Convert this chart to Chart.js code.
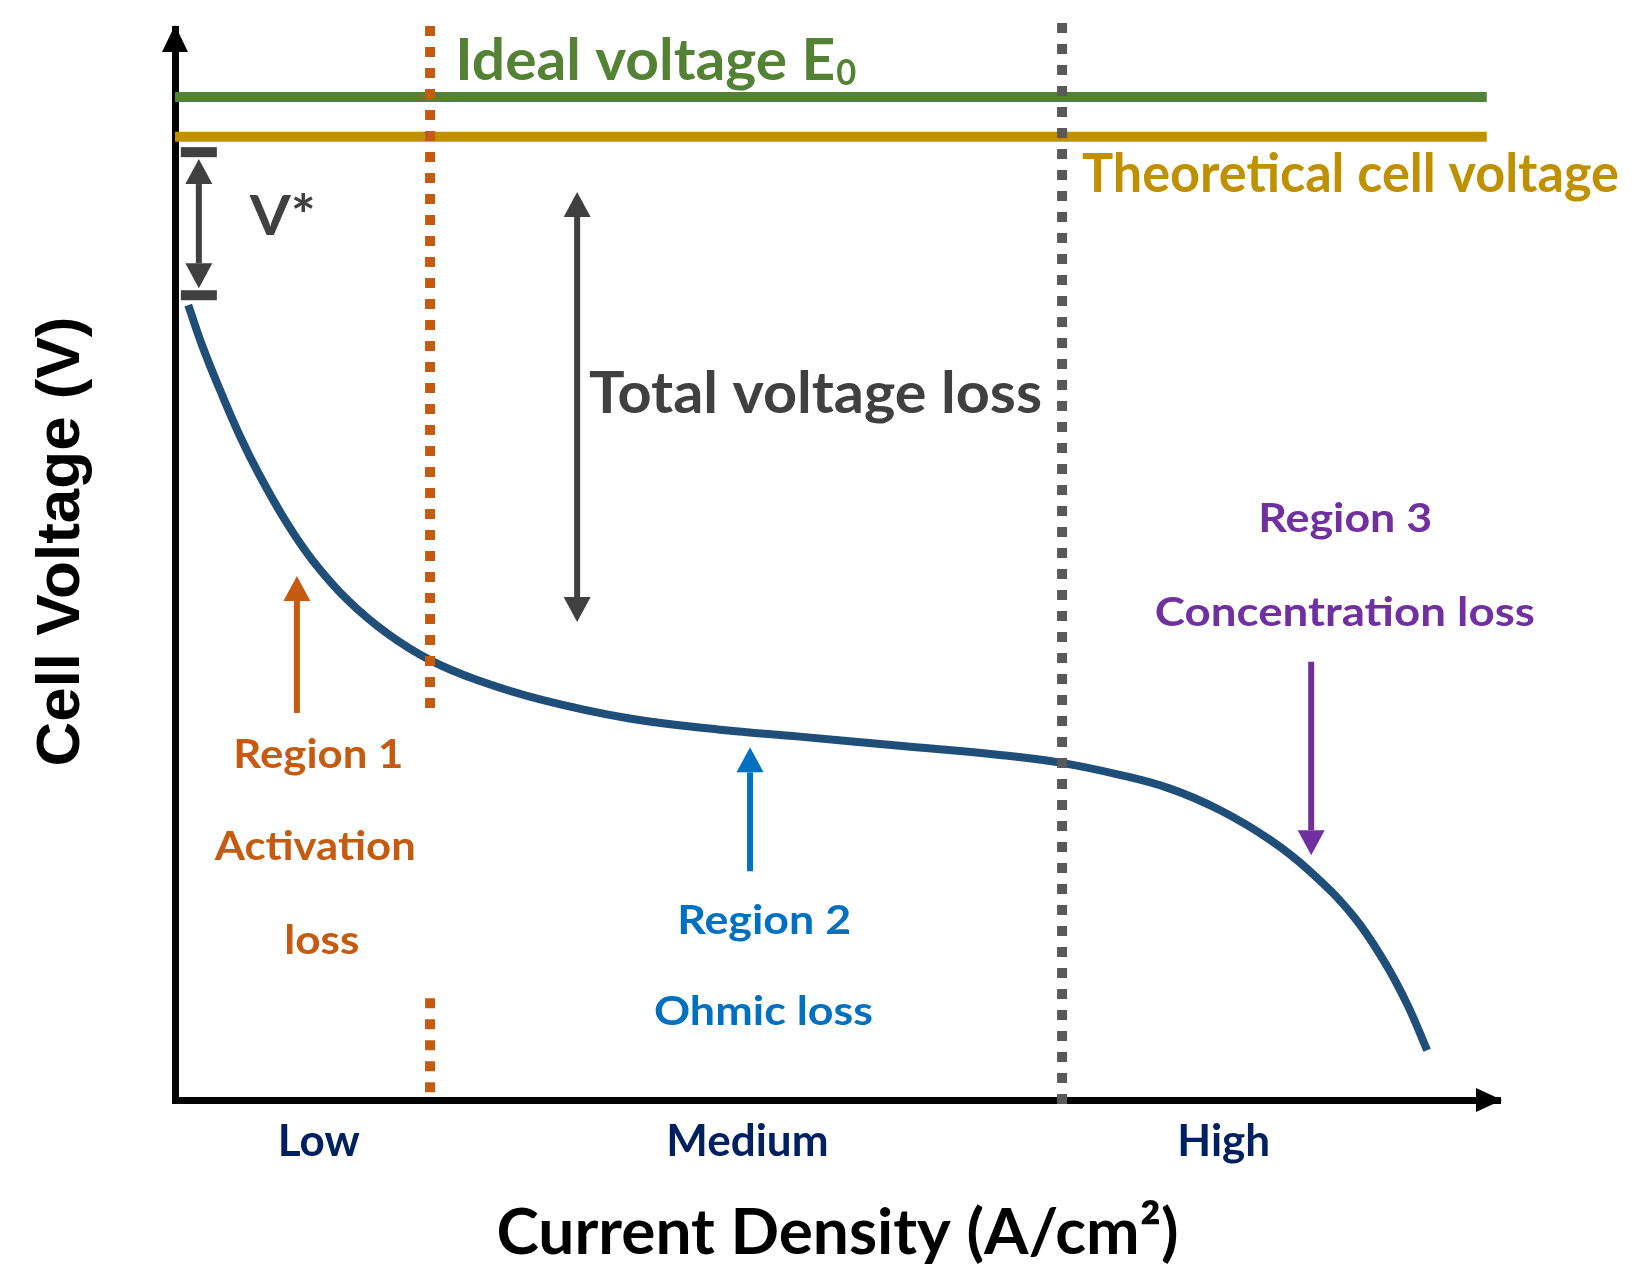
<!DOCTYPE html>
<html>
<head>
<meta charset="utf-8">
<title>Fuel cell polarization curve</title>
<script src="https://cdn.jsdelivr.net/npm/chart.js"></script>
<style>
  body { margin: 0; background: #fff; }
  canvas { display: block; }
</style>
</head>
<body>
<canvas id="polarizacion" width="1634" height="1284"></canvas>
<script>
// curva de polarizacion (unidades relativas)
const currentDensity = [0.020, 0.042, 0.068, 0.098, 0.128, 0.169, 0.208, 0.260, 0.320, 0.385,
    0.456, 0.554, 0.684, 0.823, 0.943, 1.094, 1.245, 1.336, 1.426, 1.502,
    1.577, 1.653, 1.713, 1.778, 1.826, 1.860, 1.890];
const cellVoltage = [1.039, 0.984, 0.928, 0.868, 0.816, 0.754, 0.705, 0.654, 0.610, 0.575,
    0.549, 0.523, 0.499, 0.484, 0.475, 0.463, 0.451, 0.441, 0.425, 0.407,
    0.379, 0.340, 0.299, 0.241, 0.180, 0.125, 0.065];

// lineas horizontales
const idealVoltage = 1.311;
const theoreticalVoltage = 1.259;
const flatLineEnd = 1.98;

// limites de regiones (lineas punteadas)
const activationBoundary = 0.385;
const activationSpans = [[1.404, 0.512], [0.133, 0.010]];
const concentrationBoundary = 1.339;
const concentrationSpan = [1.408, -0.010];

// etiquetas del eje x
const regionTickPositions = [0.217, 0.864, 1.583];
const regionTickLabels = ['Low', 'Medium', 'High'];

// titulo del eje y, centrado en este valor
const yTitleCenter = 0.73;

// flechas: x, cola, punta
const arrows = [
    { x: 0.036, from: 1.061, to: 1.230, color: '#404040', both: true, bars: [1.239, 1.052] },
    { x: 0.607, from: 0.625, to: 1.187, color: '#404040', both: true },
    { x: 0.184, from: 0.506, to: 0.685, color: '#c55a11' },
    { x: 0.868, from: 0.299, to: 0.461, color: '#0070c0' },
    { x: 1.715, from: 0.573, to: 0.320, color: '#7030a0' }
];

// textos: posicion izquierda / linea base
const notes = [
    { text: 'Ideal voltage E', x: 0.423, y: 1.333, color: '#548235', size: 58, w: 380 },
    { text: '0', x: 0.998, y: 1.327, color: '#548235', size: 36, w: 20 },
    { text: 'Theoretical cell voltage', x: 1.369, y: 1.187, color: '#bf9000', size: 54, w: 537 },
    { text: 'V*', x: 0.113, y: 1.131, color: '#404040', size: 56, w: 66 },
    { text: 'Total voltage loss', x: 0.625, y: 0.898, color: '#404040', size: 58, w: 453 },
    { text: 'Region 1', x: 0.088, y: 0.434, color: '#c55a11', size: 41, w: 170 },
    { text: 'Activation', x: 0.060, y: 0.314, color: '#c55a11', size: 41, w: 201 },
    { text: 'loss', x: 0.165, y: 0.191, color: '#c55a11', size: 41, w: 75 },
    { text: 'Region 2', x: 0.758, y: 0.217, color: '#0070c0', size: 41, w: 174 },
    { text: 'Ohmic loss', x: 0.723, y: 0.098, color: '#0070c0', size: 41, w: 219 },
    { text: 'Region 3', x: 1.635, y: 0.742, color: '#7030a0', size: 41, w: 174 },
    { text: 'Concentration loss', x: 1.479, y: 0.620, color: '#7030a0', size: 41, w: 380 }
];

function puntos(xs, ys) {
    return xs.map((v, i) => ({ x: v, y: ys[i] }));
}

function segmentosVerticales(xv, tramos) {
    const data = [];
    tramos.forEach((t, i) => {
        if (i > 0) data.push({ x: xv, y: null });
        data.push({ x: xv, y: t[0] }, { x: xv, y: t[1] });
    });
    return data;
}

function punta(ctx, px, tipY, dir, len, half) {
    ctx.beginPath();
    ctx.moveTo(px, tipY);
    ctx.lineTo(px - half, tipY - dir * len);
    ctx.lineTo(px + half, tipY - dir * len);
    ctx.closePath();
    ctx.fill();
}

const anotaciones = {
    id: 'anotaciones',
    afterDraw(chart) {
        const { ctx, chartArea, scales: { x, y } } = chart;
        ctx.save();

        // puntas de los ejes
        ctx.fillStyle = '#000';
        punta(ctx, chartArea.left, chartArea.top - 4, -1, 27, 13);
        ctx.beginPath();
        ctx.moveTo(chartArea.right + 2, chartArea.bottom);
        ctx.lineTo(chartArea.right - 24, chartArea.bottom - 12);
        ctx.lineTo(chartArea.right - 24, chartArea.bottom + 12);
        ctx.closePath();
        ctx.fill();

        // titulo del eje y
        ctx.save();
        ctx.translate(y.left + 62, y.getPixelForValue(yTitleCenter));
        ctx.rotate(-Math.PI / 2);
        ctx.font = 'bold 62px "Liberation Sans"';
        ctx.textAlign = 'center';
        ctx.textBaseline = 'middle';
        ctx.fillStyle = '#000';
        ctx.fillText('Cell Voltage (V)', 0, 0);
        ctx.restore();

        // flechas
        arrows.forEach(a => {
            const px = x.getPixelForValue(a.x);
            const yTail = y.getPixelForValue(a.from);
            const yTip = y.getPixelForValue(a.to);
            const dir = yTip > yTail ? 1 : -1;
            const len = 25, half = 13.5;
            ctx.fillStyle = a.color;
            ctx.strokeStyle = a.color;
            ctx.lineWidth = 6;
            ctx.beginPath();
            ctx.moveTo(px, a.both ? yTail + dir * len : yTail);
            ctx.lineTo(px, yTip - dir * len);
            ctx.stroke();
            punta(ctx, px, yTip, dir, len, half);
            if (a.both) punta(ctx, px, yTail, -dir, len, half);
            (a.bars || []).forEach(b => {
                const by = y.getPixelForValue(b);
                ctx.fillRect(px - 18, by - 5, 36, 10);
            });
        });

        // textos
        ctx.textAlign = 'left';
        ctx.textBaseline = 'alphabetic';
        notes.forEach(n => {
            ctx.font = 'bold ' + n.size + 'px Lato';
            const medido = ctx.measureText(n.text).width;
            ctx.save();
            ctx.translate(x.getPixelForValue(n.x), y.getPixelForValue(n.y));
            ctx.scale(n.w / medido, 1);
            ctx.fillStyle = n.color;
            ctx.fillText(n.text, 0, 0);
            ctx.restore();
        });
        ctx.restore();
    }
};

const lineaBase = { showLine: true, pointRadius: 0, pointHoverRadius: 0, fill: false };

new Chart(document.getElementById('polarizacion').getContext('2d'), {
    type: 'scatter',
    data: {
        datasets: [
            {
                ...lineaBase,
                label: 'Activation limit',
                data: segmentosVerticales(activationBoundary, activationSpans),
                borderColor: '#c55a11',
                borderWidth: 10,
                borderDash: [10, 11],
                borderCapStyle: 'butt',
                spanGaps: false,
                clip: false
            },
            {
                ...lineaBase,
                label: 'Concentration limit',
                data: segmentosVerticales(concentrationBoundary, [concentrationSpan]),
                borderColor: '#595959',
                borderWidth: 10,
                borderDash: [10, 11],
                borderCapStyle: 'butt',
                clip: false
            },
            {
                ...lineaBase,
                label: 'Theoretical cell voltage',
                data: [{ x: 0, y: theoreticalVoltage }, { x: flatLineEnd, y: theoreticalVoltage }],
                borderColor: '#bf9000',
                borderWidth: 10
            },
            {
                ...lineaBase,
                label: 'Ideal voltage',
                data: [{ x: 0, y: idealVoltage }, { x: flatLineEnd, y: idealVoltage }],
                borderColor: '#548235',
                borderWidth: 10
            },
            {
                ...lineaBase,
                label: 'Cell voltage',
                data: puntos(currentDensity, cellVoltage),
                borderColor: '#1f4e79',
                borderWidth: 8,
                borderCapStyle: 'butt',
                tension: 0.4
            }
        ]
    },
    options: {
        responsive: false,
        animation: false,
        devicePixelRatio: 1,
        layout: { padding: { left: 0, top: 29, right: 134, bottom: 0 } },
        plugins: {
            legend: { display: false },
            tooltip: { enabled: false }
        },
        scales: {
            x: {
                type: 'linear',
                min: 0,
                max: 2,
                grid: { display: false, drawTicks: false },
                border: { display: true, color: '#000', width: 7 },
                afterBuildTicks: scale => {
                    scale.ticks = regionTickPositions.map(v => ({ value: v }));
                },
                afterFit: scale => { scale.height = 184; },
                ticks: {
                    padding: 15,
                    color: '#002060',
                    font: { family: 'Lato', weight: 'bold', size: 44 },
                    maxRotation: 0,
                    autoSkip: false,
                    callback: (value, index) => regionTickLabels[index]
                },
                title: {
                    display: true,
                    text: 'Current Density (A/cm²)',
                    color: '#000',
                    font: { family: 'Lato', weight: 'bold', size: 64 },
                    padding: { top: 0, bottom: 12 }
                }
            },
            y: {
                min: 0,
                max: 1.4,
                grid: { display: false, drawTicks: false },
                border: { display: true, color: '#000', width: 7 },
                ticks: { display: false },
                afterFit: scale => { scale.width = 175; },
                title: { display: false }
            }
        }
    },
    plugins: [anotaciones]
});
</script>
</body>
</html>
